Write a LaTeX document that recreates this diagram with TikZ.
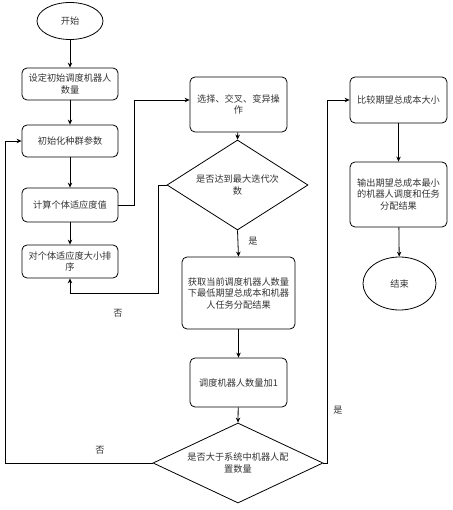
\documentclass[tikz,border=0pt]{standalone}
\usepackage{fontspec}
\newfontfamily\cjk{Noto Sans CJK SC}
\usetikzlibrary{shapes.geometric,arrows.meta}
\begin{document}
\begin{tikzpicture}[x=1pt,y=-1pt,
  every node/.style={font=\cjk\fontsize{9.2}{11.5}\selectfont, text=black!80},
  box/.style={draw, rounded corners=5pt, line width=0.8pt, align=center, inner sep=1pt},
  oval/.style={draw, ellipse, line width=0.8pt, inner sep=0pt},
  dia/.style={draw, diamond, line width=0.8pt, inner sep=0pt},
  txt/.style={align=center, inner sep=0pt},
  arr/.style={-{Stealth[length=5pt,width=4.5pt]}, line width=0.8pt},
  ln/.style={line width=0.8pt}]
\useasboundingbox (0,0) rectangle (452,510);
% left column
\node[oval, minimum width=66, minimum height=37] (start) at (70,21) {开始};
\node[box, minimum width=96, minimum height=32] (b1) at (70,84) {设定初始调度机器人\\数量};
\node[box, minimum width=96, minimum height=32] (b2) at (70,141) {初始化种群参数};
\node[box, minimum width=96, minimum height=34] (b3) at (70,205) {计算个体适应度值};
\node[box, minimum width=96, minimum height=33] (b4) at (70,261.5) {对个体适应度大小排\\序};
% middle column
\node[box, minimum width=97, minimum height=55] (b5) at (238.5,104.5) {选择、交叉、变异操\\作};
\node[dia, minimum width=141, minimum height=90] (d1) at (237.5,185) {};
\node[txt] (d1t) at (d1) {是否达到最大迭代次\\数};
\node[box, minimum width=113, minimum height=72] (b6) at (238.5,293) {获取当前调度机器人数量\\下最低期望总成本和机器\\人任务分配结果};
\node[box, minimum width=97, minimum height=49] (b7) at (238.5,382.5) {调度机器人数量加1};
\node[dia, minimum width=170, minimum height=80] (d2) at (238,463) {};
\node[txt] (d2t) at (d2) {是否大于系统中机器人配\\置数量};
% right column
\node[box, minimum width=97, minimum height=46] (b8) at (398.5,100) {比较期望总成本大小};
\node[box, minimum width=97, minimum height=65] (b9) at (398.5,194.5) {输出期望总成本最小\\的机器人调度和任务\\分配结果};
\node[oval, minimum width=73, minimum height=53] (end) at (399.5,283.5) {结束};
% coordinates
\coordinate (c1) at (134,100);
\coordinate (c2) at (158,293);
\coordinate (c3) at (5,463);
\coordinate (c4) at (327,463);
% connectors
\draw[arr] (start) -- (b1);
\draw[arr] (b1) -- (b2);
\draw[arr] (b2) -- (b3);
\draw[arr] (b3) -- (b4);
\draw[arr] (b3.east) -| (c1) -- (b5.west |- c1);
\draw[arr] (b5) -- (d1.north);
\draw[arr] (d1.west) -| (c2) -| (b4.south);
\draw[arr] (d1.south) -- (b6.north);
\draw[arr] (b6) -- (b7);
\draw[arr] (b7) -- (d2.north);
\draw[arr] (d2.west) -- (c3) |- (b2.west);
\draw[arr] (d2.east) -- (c4) |- (b8.west);
\draw[arr] (b8) -- (b9);
\draw[arr] (b9) -- (end);
% labels
\node (l1) at (253,241) {是};
\node (l2) at (118,313) {否};
\node (l3) at (100,450) {否};
\node (l4) at (338,410) {是};
\end{tikzpicture}
\end{document}
